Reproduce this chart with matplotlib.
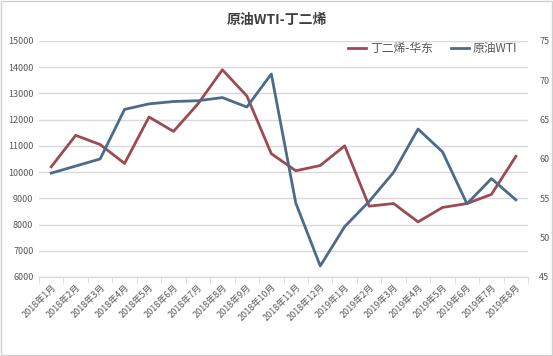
import matplotlib.pyplot as plt
from matplotlib.ticker import FixedLocator, NullFormatter

plt.rcParams['font.family'] = ['Noto Sans CJK SC', 'DejaVu Sans']

months = ["2018年1月", "2018年2月", "2018年3月", "2018年4月", "2018年5月",
          "2018年6月", "2018年7月", "2018年8月", "2018年9月", "2018年10月",
          "2018年11月", "2018年12月", "2019年1月", "2019年2月", "2019年3月",
          "2019年4月", "2019年5月", "2019年6月", "2019年7月", "2019年8月"]
butadiene = [10200, 11400, 11050, 10330, 12100, 11550, 12600, 13900, 12900, 10700,
             10050, 10250, 11000, 8700, 8800, 8100, 8650, 8800, 9150, 10600]
wti = [58.2, 59.1, 60.0, 66.3, 67.0, 67.3, 67.4, 67.8, 66.6, 70.8,
       54.4, 46.4, 51.4, 54.6, 58.3, 63.8, 60.9, 54.3, 57.5, 54.8]

RED = "#9e4a52"
BLUE = "#4b6b8a"
GRID = "#d9d9d9"
LABEL = "#595959"

fig = plt.figure(figsize=(5.53, 3.56), dpi=100)
ax = fig.add_axes([0.0705, 0.222, 0.8845, 0.663])
ax2 = ax.twinx()

x = list(range(len(months)))
l1, = ax.plot(x, butadiene, color=RED, linewidth=2, label="丁二烯-华东", zorder=3)
l2, = ax2.plot(x, wti, color=BLUE, linewidth=2, label="原油WTI", zorder=3)

ax.set_xlim(-0.5, len(months) - 0.5)
ax.set_ylim(6000, 15000)
ax.set_yticks(range(6000, 15001, 1000))
ax2.set_ylim(45, 75)
ax2.set_yticks(range(45, 76, 5))

ax.set_xticks(x)
ax.set_xticklabels(months, rotation=45, ha="right", rotation_mode="anchor",
                   fontsize=6.5, color=LABEL)
ax.tick_params(axis="x", length=0, pad=4)
ax.xaxis.set_minor_locator(FixedLocator([i - 0.5 for i in range(len(months) + 1)]))
ax.xaxis.set_minor_formatter(NullFormatter())
ax.tick_params(axis="x", which="minor", length=4, color=GRID)

ax.tick_params(axis="y", length=0, labelsize=6.5, labelcolor=LABEL, pad=4)
ax2.tick_params(axis="y", length=0, labelsize=6.5, labelcolor=LABEL, pad=8)

ax.grid(axis="y", color=GRID, linewidth=1)
ax.set_axisbelow(True)
for a in (ax, ax2):
    for side in ("top", "left", "right"):
        a.spines[side].set_visible(False)
    a.spines["bottom"].set_color(GRID)

ax.legend(handles=[l1, l2], loc="upper right", bbox_to_anchor=(1.0, 1.04),
          ncol=2, frameon=False, fontsize=8.5, handlelength=1.6,
          handletextpad=0.3, columnspacing=1.5, labelcolor=LABEL)

fig.text(0.5, 0.945, "原油WTI-丁二烯", ha="center", va="center",
         fontsize=10, fontweight="bold", color="#404040")

fig.patches.append(plt.Rectangle((0.002, 0.003), 0.996, 0.994, transform=fig.transFigure,
                                 fill=False, edgecolor="#d0d0d0", linewidth=1))

fig.savefig("out.png", dpi=100)
